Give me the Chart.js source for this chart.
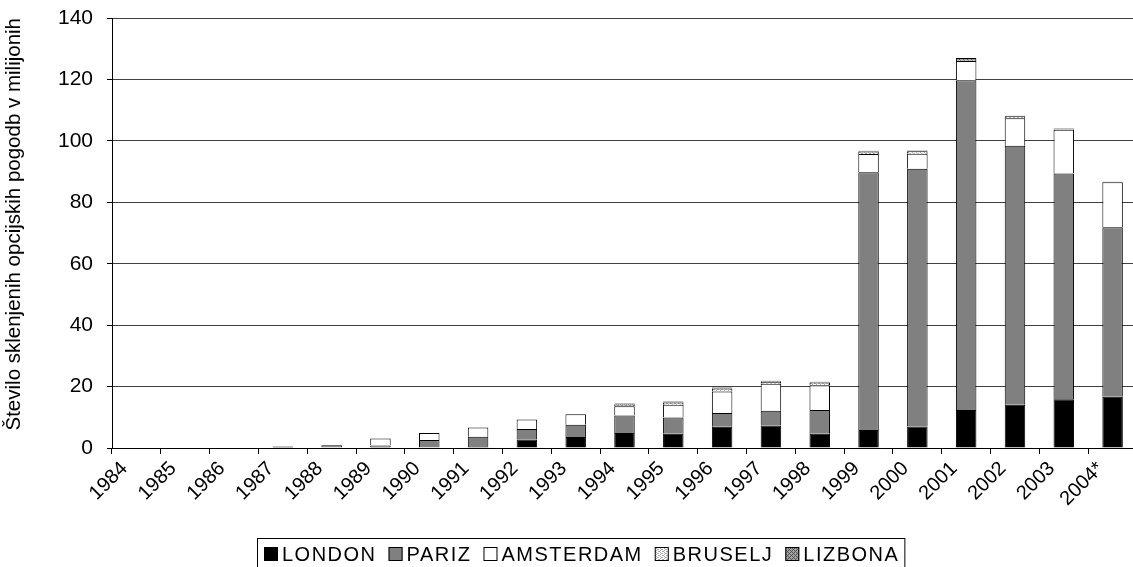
<!DOCTYPE html>
<html lang="sl">
<head>
<meta charset="UTF-8">
<title>Opcijske pogodbe</title>
<script src="https://cdn.jsdelivr.net/npm/chart.js@4.4.1/dist/chart.umd.min.js"></script>
<style>
  html, body { margin: 0; padding: 0; background: #fff; overflow: hidden; }
  #okvir { width: 1140px; height: 567px; }
</style>
</head>
<body>
<div id="okvir">
  <canvas id="graf" width="1140" height="567"></canvas>
</div>

<script>
  // leta in obseg poslov po borzah (v milijonih pogodb)
  var leta = ['1984', '1985', '1986', '1987', '1988', '1989', '1990', '1991', '1992', '1993', '1994',
    '1995', '1996', '1997', '1998', '1999', '2000', '2001', '2002', '2003', '2004*'];
  var london = [null, null, null, 0.5, null, 0.3, 0.2, 0.3, 2.8, 3.6, 4.9,
    4.6, 6.9, 7.3, 4.6, 5.9, 7.0, 12.4, 14.1, 15.9, 16.7];
  var pariz = [null, null, null, null, 0.9, 0.5, 2.4, 3.4, 3.4, 4.0, 5.7,
    5.3, 4.5, 4.8, 7.8, 83.9, 83.9, 107.3, 84.3, 73.5, 55.2];
  var amsterdam = [null, null, null, null, null, 2.3, 2.3, 3.0, 3.1, 3.4, 3.0,
    4.2, 7.0, 8.8, 8.0, 5.9, 4.9, 6.3, 9.0, 14.2, 14.6];
  var bruselj = [null, null, null, null, null, null, null, null, null, null, 0.5,
    0.7, 1.0, 0.7, 0.9, 0.8, 0.8, 0.3, 0.6, 0.2, 0.2];
  var lizbona = [null, null, null, null, null, null, null, null, null, null, 0.4,
    0.3, 0.3, 0.3, 0.3, 0.3, 0.3, 0.7, 0.2, 0.2, null];
  var osY = [0, 20, 40, 60, 80, 100, 120, 140];

  var pisava = '"Liberation Sans", Arial, sans-serif';
  Chart.defaults.font.family = pisava;
  Chart.defaults.color = '#000';

  // vzorca za Bruselj (pike) in Lizbono (mreza)
  function vzorec(ozadje, barvaPik, pike) {
    var c = document.createElement('canvas');
    c.width = 4; c.height = 4;
    var g = c.getContext('2d');
    g.fillStyle = ozadje;
    g.fillRect(0, 0, 4, 4);
    g.fillStyle = barvaPik;
    for (var i = 0; i < pike.length; i++) {
      g.fillRect(pike[i][0], pike[i][1], 1, 1);
    }
    return g.createPattern(c, 'repeat');
  }

  var vzorecBruselj = vzorec('#ffffff', '#a6a6a6', [[0, 0], [2, 1], [0, 2], [2, 3], [1, 1], [3, 3]]);
  var vzorecLizbona = vzorec('#a0a0a0', '#555555', [[0, 0], [1, 1], [2, 2], [3, 3], [2, 0], [0, 2]]);

  function serija(ime, podatki, barva) {
    return {
      label: ime,
      data: podatki,
      backgroundColor: barva,
      borderColor: '#000',
      // spodnji rob riše že zgornji rob segmenta pod njim
      borderWidth: { top: 1, left: 1, right: 1, bottom: 0 },
      borderSkipped: false,
      barPercentage: 0.42,
      categoryPercentage: 1.0
    };
  }

  // legenda v okvirju pod grafom
  var legendaOkvir = {
    id: 'legendaOkvir',
    afterDraw: function (chart) {
      var ctx = chart.ctx;
      ctx.save();
      ctx.font = '20px ' + pisava;
      ctx.letterSpacing = '1.5px';
      ctx.textBaseline = 'alphabetic';
      var kv = 14, razmik = 4, med = 12;
      var sets = chart.data.datasets;
      var skupaj = 0;
      for (var i = 0; i < sets.length; i++) {
        skupaj += kv + razmik + ctx.measureText(sets[i].label).width;
        if (i < sets.length - 1) skupaj += med;
      }
      var x = Math.round(582 - skupaj / 2);
      var y = 561;
      ctx.strokeStyle = '#000';
      ctx.lineWidth = 1;
      ctx.strokeRect(x - 6.5, 538.5, skupaj + 12, 30);
      for (var j = 0; j < sets.length; j++) {
        ctx.fillStyle = sets[j].backgroundColor;
        ctx.fillRect(x, y - kv, kv, kv);
        ctx.strokeRect(x + 0.5, y - kv + 0.5, kv - 1, kv - 1);
        x += kv + razmik;
        ctx.fillStyle = '#000';
        ctx.fillText(sets[j].label, x, y);
        x += ctx.measureText(sets[j].label).width + med;
      }
      ctx.restore();
    }
  };

  new Chart(document.getElementById('graf'), {
    type: 'bar',
    data: {
      labels: leta,
      datasets: [
        serija('LONDON', london, '#000000'),
        serija('PARIZ', pariz, '#808080'),
        serija('AMSTERDAM', amsterdam, '#ffffff'),
        serija('BRUSELJ', bruselj, vzorecBruselj),
        serija('LIZBONA', lizbona, vzorecLizbona)
      ]
    },
    options: {
      responsive: false,
      animation: false,
      devicePixelRatio: 1,
      layout: {
        padding: { top: 18, right: 3, left: 0, bottom: 0 }
      },
      plugins: {
        legend: { display: false },
        tooltip: { enabled: false }
      },
      scales: {
        x: {
          stacked: true,
          offset: true,
          grid: {
            offset: true,
            drawOnChartArea: false,
            drawTicks: true,
            tickLength: 6,
            tickColor: '#000'
          },
          border: { color: '#000', width: 1 },
          ticks: {
            font: { size: 20 },
            minRotation: 45,
            maxRotation: 45,
            autoSkip: false,
            labelOffset: -12,
            padding: 3
          },
          afterFit: function (s) { s.height = 119; }
        },
        y: {
          stacked: true,
          min: 0,
          max: 140,
          afterBuildTicks: function (s) {
            s.ticks = osY.map(function (v) { return { value: v }; });
          },
          grid: {
            color: '#404040',
            lineWidth: 1,
            drawTicks: true,
            tickLength: 5,
            tickColor: '#000'
          },
          border: { color: '#000', width: 1 },
          ticks: {
            font: { size: 21 },
            padding: 14
          },
          title: {
            display: true,
            text: 'Število sklenjenih opcijskih pogodb v milijonih',
            align: 'end',
            font: { size: 20.5 },
            padding: { top: 2, bottom: 0 }
          },
          afterFit: function (s) {
            s.width = 112;
            // vrh risalne ploskve določa samo layout.padding
            s.paddingTop = 0;
            s.paddingBottom = 0;
          }
        }
      }
    },
    plugins: [legendaOkvir]
  });
</script>
</body>
</html>
